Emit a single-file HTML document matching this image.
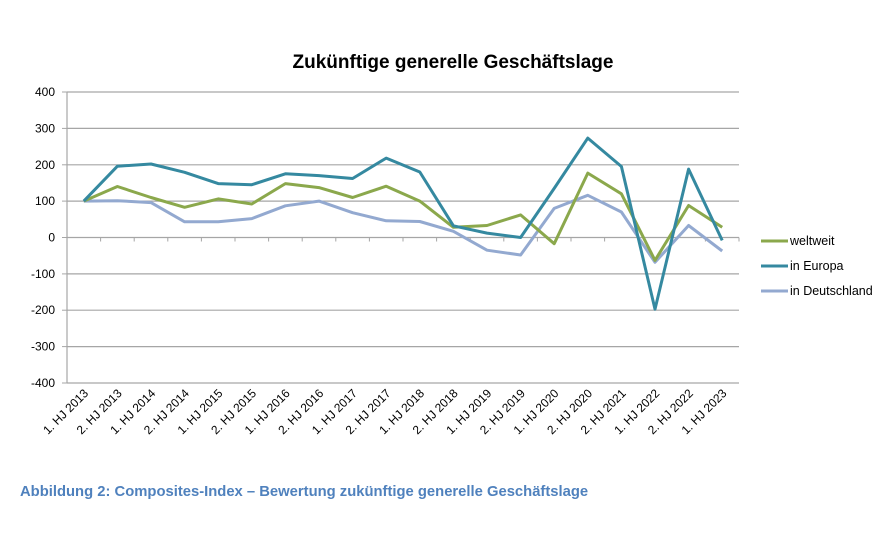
<!DOCTYPE html>
<html><head><meta charset="utf-8"><style>
body{margin:0;background:#fff}
svg{display:block;font-family:"Liberation Sans",Arial,sans-serif}
</style></head><body>
<svg width="892" height="536" viewBox="0 0 892 536" xmlns="http://www.w3.org/2000/svg">
<rect width="892" height="536" fill="#fff"/>
<text x="453" y="68" text-anchor="middle" font-size="19" font-weight="bold" fill="#000">Zukünftige generelle Geschäftslage</text>
<g stroke="#a6a6a6" stroke-width="1.2">
<line x1="67" y1="92" x2="739" y2="92"/><line x1="67" y1="128.4" x2="739" y2="128.4"/>
<line x1="67" y1="164.8" x2="739" y2="164.8"/><line x1="67" y1="201.1" x2="739" y2="201.1"/>
<line x1="67" y1="237.5" x2="739" y2="237.5"/><line x1="67" y1="273.9" x2="739" y2="273.9"/>
<line x1="67" y1="310.2" x2="739" y2="310.2"/><line x1="67" y1="346.6" x2="739" y2="346.6"/>
<line x1="67" y1="383" x2="739" y2="383"/>
<line x1="67" y1="92" x2="67" y2="383"/>
</g>
<g stroke="#a6a6a6" stroke-width="1">
<line x1="62" y1="92" x2="67" y2="92"/><line x1="62" y1="128.4" x2="67" y2="128.4"/><line x1="62" y1="164.8" x2="67" y2="164.8"/><line x1="62" y1="201.1" x2="67" y2="201.1"/><line x1="62" y1="237.5" x2="67" y2="237.5"/><line x1="62" y1="273.9" x2="67" y2="273.9"/><line x1="62" y1="310.2" x2="67" y2="310.2"/><line x1="62" y1="346.6" x2="67" y2="346.6"/><line x1="62" y1="383" x2="67" y2="383"/>
<path d="M100.6 237.5v4M134.2 237.5v4M167.8 237.5v4M201.4 237.5v4M235 237.5v4M268.6 237.5v4M302.2 237.5v4M335.8 237.5v4M369.4 237.5v4M403 237.5v4M436.6 237.5v4M470.2 237.5v4M503.8 237.5v4M537.4 237.5v4M571 237.5v4M604.6 237.5v4M638.2 237.5v4M671.8 237.5v4M705.4 237.5v4M739 237.5v4"/>
</g>
<g font-size="12" fill="#000" text-anchor="end">
<text x="55" y="96">400</text><text x="55" y="132.4">300</text><text x="55" y="168.8">200</text><text x="55" y="205.1">100</text><text x="55" y="241.5">0</text><text x="55" y="277.9">-100</text><text x="55" y="314.2">-200</text><text x="55" y="350.6">-300</text><text x="55" y="387">-400</text>
</g>
<g font-size="12" fill="#000" text-anchor="end">
<text transform="translate(89,394) rotate(-45)">1. HJ 2013</text>
<text transform="translate(122.6,394) rotate(-45)">2. HJ 2013</text>
<text transform="translate(156.2,394) rotate(-45)">1. HJ 2014</text>
<text transform="translate(189.8,394) rotate(-45)">2. HJ 2014</text>
<text transform="translate(223.4,394) rotate(-45)">1. HJ 2015</text>
<text transform="translate(257,394) rotate(-45)">2. HJ 2015</text>
<text transform="translate(290.6,394) rotate(-45)">1. HJ 2016</text>
<text transform="translate(324.2,394) rotate(-45)">2. HJ 2016</text>
<text transform="translate(357.8,394) rotate(-45)">1. HJ 2017</text>
<text transform="translate(391.4,394) rotate(-45)">2. HJ 2017</text>
<text transform="translate(425,394) rotate(-45)">1. HJ 2018</text>
<text transform="translate(458.6,394) rotate(-45)">2. HJ 2018</text>
<text transform="translate(492.2,394) rotate(-45)">1. HJ 2019</text>
<text transform="translate(525.8,394) rotate(-45)">2. HJ 2019</text>
<text transform="translate(559.4,394) rotate(-45)">1. HJ 2020</text>
<text transform="translate(593,394) rotate(-45)">2. HJ 2020</text>
<text transform="translate(626.6,394) rotate(-45)">2. HJ 2021</text>
<text transform="translate(660.2,394) rotate(-45)">1. HJ 2022</text>
<text transform="translate(693.8,394) rotate(-45)">2. HJ 2022</text>
<text transform="translate(727.4,394) rotate(-45)">1. HJ 2023</text>
</g>
<g fill="none" stroke-width="3" stroke-linejoin="round">
<polyline stroke="#93A9D0" points="83.8,201.1 117.4,200.7 151,202.6 184.6,221.8 218.2,221.8 251.8,218.6 285.4,205.8 319,201.1 352.6,212.7 386.2,220.8 419.8,221.5 453.4,231.3 487,250.2 520.6,255 554.2,208.4 587.8,195.3 621.4,212 655,262.3 688.6,225.5 722.2,251"/>
<polyline stroke="#8BA84C" points="83.8,201.1 117.4,186.5 151,197.5 184.6,207.3 218.2,198.9 251.8,204 285.4,183.6 319,187.6 352.6,197.5 386.2,186.2 419.8,201.1 453.4,227.3 487,225.5 520.6,214.9 554.2,243.7 587.8,173.1 621.4,193.8 655,260.4 688.6,205.5 722.2,227.3"/>
<polyline stroke="#3589A0" points="83.8,201.1 117.4,166.2 151,164 184.6,172.3 218.2,183.6 251.8,184.7 285.4,173.8 319,175.6 352.6,178.5 386.2,158.1 419.8,172 453.4,225.8 487,233.1 520.6,237.5 554.2,188.4 587.8,138.1 621.4,166.5 655,309.2 688.6,169.1 722.2,240.4"/>
</g>
<g stroke-width="3">
<line x1="761" y1="241" x2="788" y2="241" stroke="#8BA84C"/>
<line x1="761" y1="266" x2="788" y2="266" stroke="#3589A0"/>
<line x1="761" y1="291" x2="788" y2="291" stroke="#93A9D0"/>
</g>
<g font-size="12.5" fill="#000">
<text x="790" y="245">weltweit</text>
<text x="790" y="270">in Europa</text>
<text x="790" y="295">in Deutschland</text>
</g>
<text x="20" y="496" font-size="14.8" font-weight="bold" fill="#4F81BD">Abbildung 2: Composites-Index – Bewertung zukünftige generelle Geschäftslage</text>
</svg>
</body></html>
